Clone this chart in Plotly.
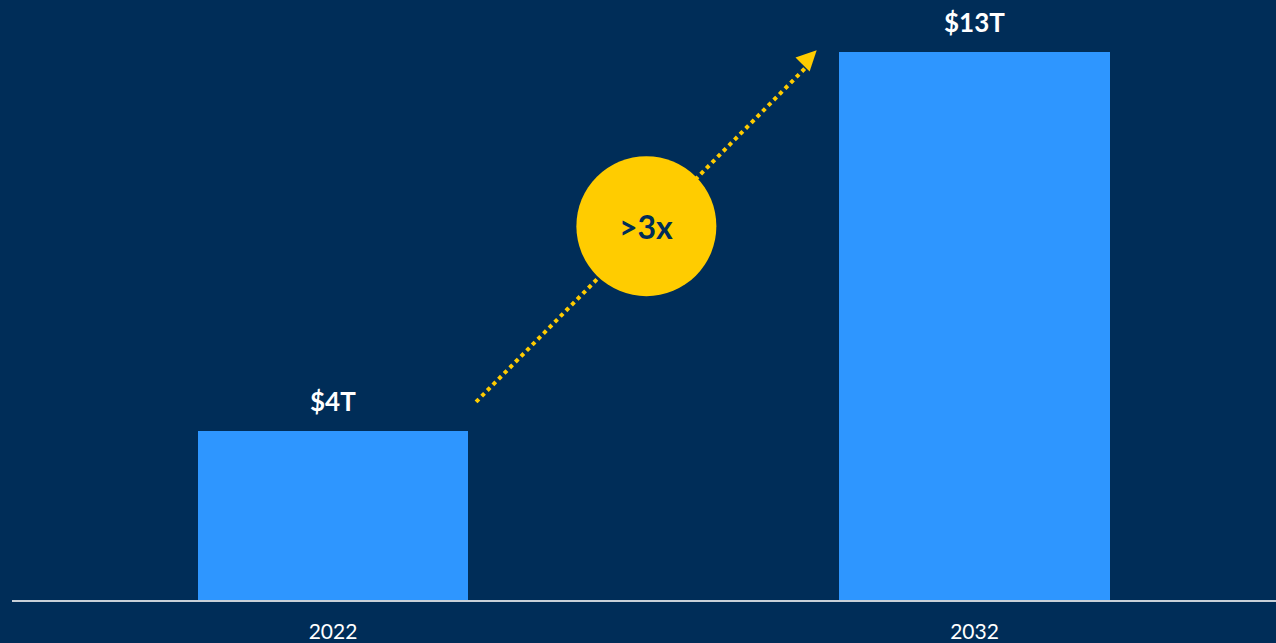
import plotly.graph_objects as go

# Market size, trillions of USD
years = ["2022", "2032"]
values = [4, 13]
value_labels = ["$4T", "$13T"]
growth_label = ">3x"

BG = "#002D58"
BAR = "#2E96FF"
GOLD = "#FFCC00"
FONT = "Lato, 'Open Sans', sans-serif"

fig = go.Figure()

fig.add_trace(go.Bar(
    x=[0, 1],
    y=values,
    width=0.421,
    marker=dict(color=BAR, line=dict(width=0)),
    hoverinfo="skip",
))

# value labels above each bar
for i, (v, lab) in enumerate(zip(values, value_labels)):
    fig.add_annotation(
        x=i, y=v, text=f"<b>{lab}</b>", showarrow=False,
        yanchor="bottom", yshift=12,
        font=dict(family=FONT, size=26, color="white"),
    )

# dotted growth arrow between the bars
x_start, y_start = 0.223, 4.70
x_tip, y_tip = 0.754, 13.04
fig.add_shape(
    type="line", x0=x_start, y0=y_start, x1=x_tip - 0.012, y1=y_tip - 0.33,
    line=dict(color=GOLD, width=4, dash="dot"), layer="above",
)
fig.add_annotation(
    x=x_tip, y=y_tip, ax=-12, ay=12, axref="pixel", ayref="pixel",
    showarrow=True, arrowhead=2, arrowsize=1.6, arrowwidth=2.5,
    arrowcolor=GOLD, text="",
)

# growth badge centred on the arrow
cx, cy = (x_start + x_tip) / 2, (y_start + y_tip) / 2
fig.add_shape(
    type="circle", xref="x", yref="y",
    xsizemode="pixel", ysizemode="pixel", xanchor=cx, yanchor=cy,
    x0=-70, x1=70, y0=-70, y1=70,
    fillcolor=GOLD, line=dict(width=0), layer="above",
)
fig.add_annotation(
    x=cx, y=cy, text=f"<b>{growth_label}</b>", showarrow=False,
    font=dict(family=FONT, size=32, color=BG),
)

fig.update_layout(
    width=1276, height=643,
    paper_bgcolor=BG, plot_bgcolor=BG,
    margin=dict(l=12, r=0, t=0, b=43),
    showlegend=False,
    bargap=0,
    xaxis=dict(
        range=[-0.5004, 1.470],
        tickmode="array", tickvals=[0, 1], ticktext=years,
        showgrid=False, zeroline=False,
        showline=True, linecolor="#C8D0D8", linewidth=2,
        ticks="", ticklabelstandoff=12,
        tickfont=dict(family=FONT, size=21, color="white"),
        fixedrange=True,
    ),
    yaxis=dict(
        range=[0, 14.235], visible=False, showgrid=False, zeroline=False,
        fixedrange=True,
    ),
)

fig.write_html("out.html", config={"displayModeBar": False})
